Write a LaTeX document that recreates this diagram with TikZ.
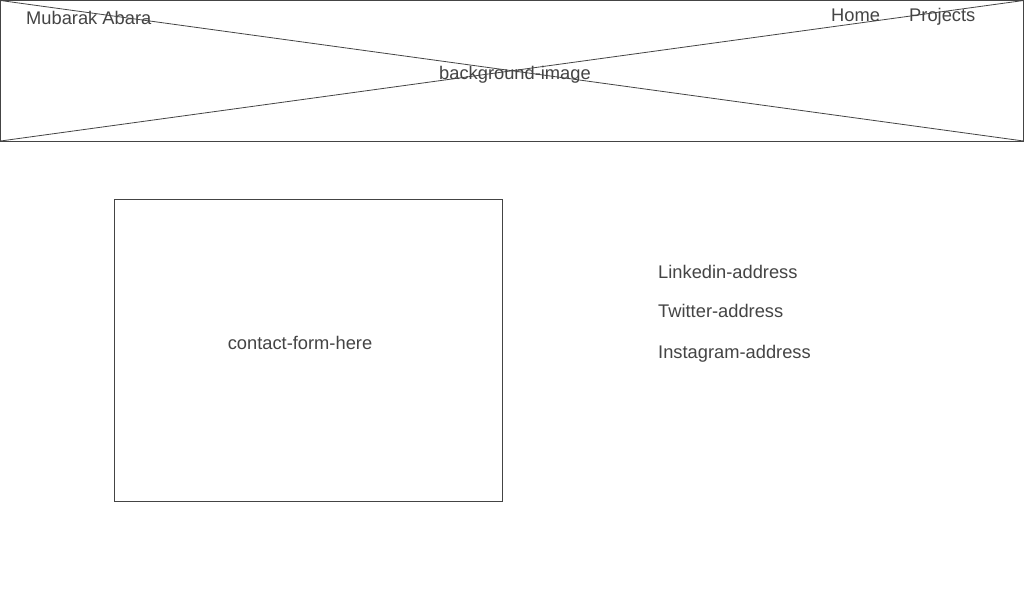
\documentclass[tikz,border=0pt]{standalone}
\usepackage{fontspec}
\setmainfont{Liberation Sans}
\definecolor{ink}{HTML}{444444}
\begin{document}
\begin{tikzpicture}[x=1pt,y=-1pt,
  box/.style={draw=ink,line width=0.8pt},
  lbl/.style={text=ink,font=\fontsize{18.3}{20}\selectfont,inner sep=0pt,anchor=base},
  lleft/.style={lbl,anchor=base west}]
\useasboundingbox (0,0) rectangle (1024,600);
\fill[white] (0,0) rectangle (1024,600);
\coordinate (tl) at (0.5,0.5);
\coordinate (br) at (1023.5,141);
\coordinate (bl) at (0.5,141);
\coordinate (tr) at (1023.5,0.5);
\draw[box] (tl) rectangle (br);
\draw[box] (tl) -- (br);
\draw[box] (bl) -- (tr);
\node[lbl] (bg) at (515,79) {background-image};
\node[lleft] (name) at (26,24.5) {Mubarak Abara};
\node[lleft] (home) at (831,21.5) {Home};
\node[lleft] (proj) at (909,21.5) {Projects};
\node[box,minimum width=388pt,minimum height=302pt,inner sep=0pt] (form) at (308.5,350.5) {};
\node[lbl] (formtxt) at (300,349) {contact-form-here};
\node[lleft] (li) at (658,278.5) {Linkedin-address};
\node[lleft] (tw) at (658,317.5) {Twitter-address};
\node[lleft] (ig) at (658,358.5) {Instagram-address};
\end{tikzpicture}
\end{document}
